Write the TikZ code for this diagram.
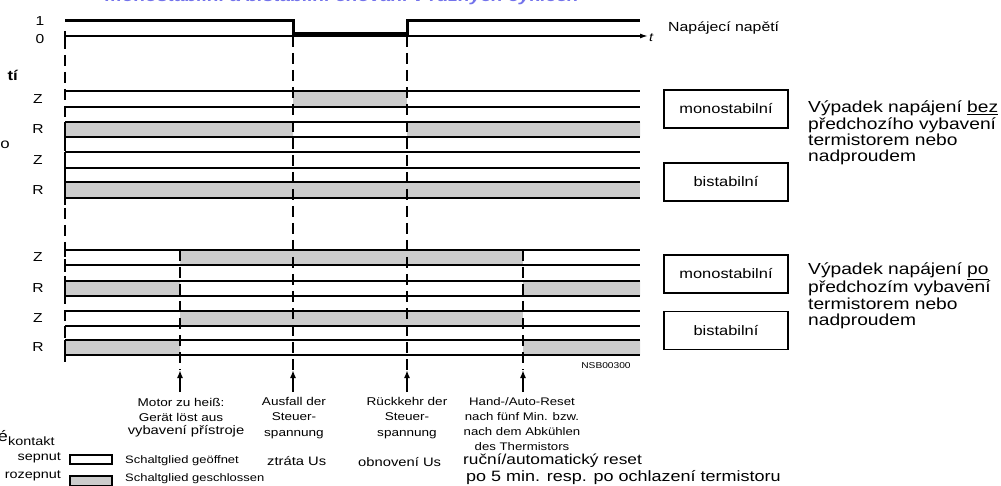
\documentclass[tikz,border=0pt]{standalone}
\usepackage{fontspec}
\setmainfont{Liberation Sans}[FakeStretch=1.2]
\usetikzlibrary{arrows.meta,positioning}
\definecolor{band}{gray}{0.8}
\definecolor{titleblue}{RGB}{115,115,235}

\begin{document}
\begin{tikzpicture}[x=1pt, y=-1pt,
	every node/.style={inner sep=0pt},
	sig/.style={line width=3pt, line join=miter},
	trace/.style={line width=1.4pt},
	dashv/.style={line width=2pt, dash pattern=on 11pt off 6pt},
	evarrow/.style={-{Latex[length=8pt,width=6pt]}, line width=2.2pt},
	modebox/.style={draw, line width=1.2pt, minimum width=124pt, minimum height=38pt,
		font=\fontsize{13.7}{15}\selectfont},
	rowlabel/.style={font=\fontsize{13}{14}\selectfont},
	caption/.style={align=center, font=\fontsize{11.3}{15.5}\selectfont},
	note/.style={align=left, anchor=west, font=\fontsize{16}{16.3}\selectfont},
	czline/.style={anchor=west, font=\fontsize{12.3}{14}\selectfont},
	legtext/.style={anchor=west, font=\fontsize{10.8}{12}\selectfont}]
	\useasboundingbox (0,0) rectangle (1001,486);
	\clip (0,0) rectangle (1001,486);

	% title (cut off at the top)
	\node[anchor=base west, text=titleblue, font=\bfseries\itshape\fontsize{16}{16}\selectfont]
		(title) at (105,2) {monostabilní a bistabilní chování v různých cyklech};

	% cut-off fragments on the left
	\node[anchor=east, font=\bfseries\fontsize{14}{14}\selectfont] (frag1) at (18,75) {tí};
	\node[anchor=east, font=\fontsize{14}{14}\selectfont] (frag2) at (10,145) {o};
	\node[anchor=east, font=\fontsize{15}{15}\selectfont] (frag3) at (8,436) {é};

	% supply voltage
	\coordinate (t0) at (65,36);
	\coordinate (tend) at (648,36);
	\draw[trace, -{Latex[length=8pt,width=5pt]}] (t0) -- (tend);
	\draw[trace] (65,31) -- (65,40);
	\draw[sig] (65,21) -| (293,34) -| (407,21) -- (640,21);
	\node[right=1pt of tend, font=\itshape\fontsize{12}{12}\selectfont, yshift=-2pt] (tlabel) {t};
	\node[anchor=west, font=\fontsize{13.2}{14}\selectfont] (supply) at (668,28) {Napájecí napětí};
	\node[rowlabel] (one) at (40,21) {1};
	\node[rowlabel] (zero) at (40,39) {0};

	% closed contact = grey
	\fill[band] (293,91) rectangle (407,107);
	\fill[band] (65,122) rectangle (293,137) (407,122) rectangle (640,137);
	\fill[band] (65,182) rectangle (640,198);
	\fill[band] (180,250) rectangle (523,265);
	\fill[band] (65,281) rectangle (180,296) (523,281) rectangle (640,296);
	\fill[band] (180,311) rectangle (523,326);
	\fill[band] (65,340) rectangle (180,355) (523,340) rectangle (640,355);

	% contact rows
	\foreach \t/\b/\l in {91/107/Z,122/137/R,152/168/Z,182/198/R,
		250/265/Z,281/296/R,311/326/Z,340/355/R}{
		\draw[trace] (65,\t) -- (640,\t);
		\draw[trace] (65,\b) -- (640,\b);
		\draw[trace] (65,\t) -- ++(0,7);
		\draw[trace] (65,\b) -- ++(0,7);
		\node[rowlabel] at (38,{(\t+\b)/2}) {\l};
	}
	\foreach \t/\b in {122/137,182/198,281/296,340/355}
		\draw[trace] (65,\t) -- (65,\b);

	% event lines
	\draw[dashv] (65,38) -- (65,355);
	\draw[dashv] (293,36) -- (293,370);
	\draw[dashv] (407,36) -- (407,370);
	\draw[dashv] (180,250) -- (180,370);
	\draw[dashv] (523,250) -- (523,370);
	\foreach \x [count=\i] in {180,293,407,523}{
		\coordinate (ev\i b) at (\x,392);
		\coordinate (ev\i t) at (\x,370);
		\draw[evarrow] (ev\i b) -- (ev\i t);
	}
	\node[font=\fontsize{8.5}{9}\selectfont] (code) at (606,366) {NSB00300};

	% modes
	\node[modebox] (mono1) at (726,109) {monostabilní};
	\node[modebox] (bist1) at (726,182) {bistabilní};
	\node[modebox] (mono2) at (726,274) {monostabilní};
	\node[modebox] (bist2) at (726,330.5) {bistabilní};
	\node[note] (case1) at (808,133) {Výpadek napájení \underline{bez}\\předchozího vybavení\\termistorem nebo\\nadproudem};
	\node[note] (case2) at (808,296) {Výpadek napájení \underline{po}\\předchozím vybavení\\termistorem nebo\\nadproudem};

	% events
	\node[caption] (cap1) at (181,410) {Motor zu heiß:\\Gerät löst aus};
	\node[font=\fontsize{12.3}{13}\selectfont] (cap1cz) at (186,431) {vybavení přístroje};
	\node[caption] (cap2) at (294,418) {Ausfall der\\Steuer-\\spannung};
	\node[caption] (cap3) at (407,418) {Rückkehr der\\Steuer-\\spannung};
	\node[caption, font=\fontsize{11}{15}\selectfont] (cap4) at (522,424.5) {Hand-/Auto-Reset\\nach fünf Min. bzw.\\nach dem Abkühlen\\des Thermistors};
	\node[czline] (cap2cz) at (267,461) {ztráta Us};
	\node[czline] (cap3cz) at (358,462) {obnovení Us};
	\node[czline, font=\fontsize{14.4}{15}\selectfont] (cap4cz) at (463,461) {ruční/automatický reset};
	\node[czline, font=\fontsize{15}{15}\selectfont] (cap4czb) at (466,478) {po 5 min. resp. po ochlazení termistoru};

	% legend
	\node[anchor=west, font=\fontsize{12}{13}\selectfont] (contact) at (8,441) {kontakt};
	\node[anchor=east, font=\fontsize{12}{13}\selectfont] (on) at (61,458) {sepnut};
	\node[anchor=east, font=\fontsize{12}{13}\selectfont] (off) at (61,476) {rozepnut};
	\node[draw, line width=1.2pt, minimum width=42pt, minimum height=9pt] (openbox) at (91,459.5) {};
	\node[draw, fill=band, line width=1.2pt, minimum width=42pt, minimum height=10pt] (closedbox) at (91,481) {};
	\node[legtext] (opentext) at (125,461) {Schaltglied geöffnet};
	\node[legtext] (closedtext) at (125,479) {Schaltglied geschlossen};
\end{tikzpicture}
\end{document}
